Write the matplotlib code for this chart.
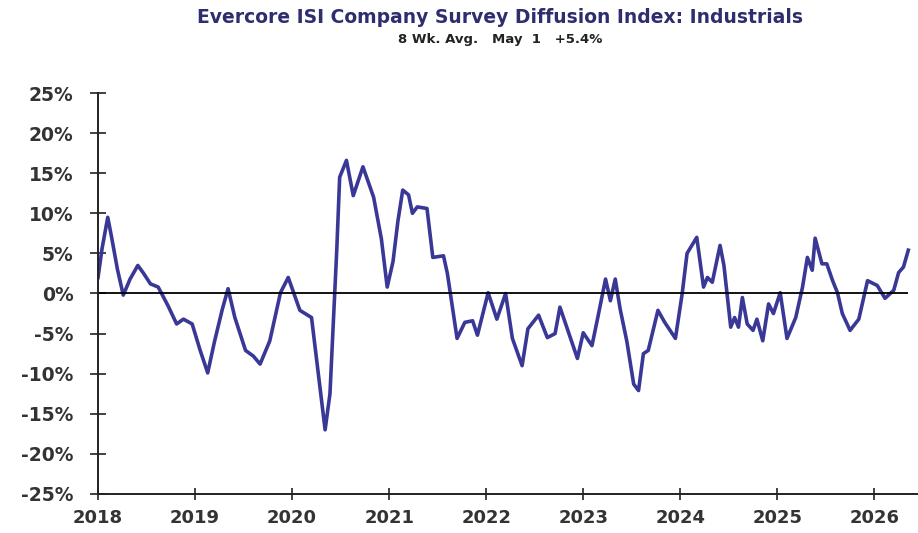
import matplotlib
matplotlib.use("Agg")
import matplotlib.pyplot as plt
import numpy as np

# Lecturas aproximadas del gráfico (año decimal, % índice de difusión)
fechas = [
    2018.00, 2018.04, 2018.10, 2018.14, 2018.20, 2018.26, 2018.33, 2018.41, 2018.47, 2018.54,
    2018.62, 2018.72, 2018.81, 2018.88, 2018.97, 2019.05, 2019.13, 2019.20, 2019.28, 2019.34,
    2019.41, 2019.52, 2019.60, 2019.67, 2019.77, 2019.88, 2019.96, 2020.08, 2020.20, 2020.26,
    2020.34, 2020.39, 2020.46, 2020.49, 2020.56, 2020.63, 2020.73, 2020.84, 2020.92, 2020.98,
    2021.04, 2021.09, 2021.14, 2021.20, 2021.24, 2021.29, 2021.39, 2021.45, 2021.56, 2021.60,
    2021.70, 2021.78, 2021.86, 2021.91, 2022.02, 2022.11, 2022.20, 2022.27, 2022.37, 2022.43,
    2022.54, 2022.63, 2022.71, 2022.76, 2022.85, 2022.94, 2023.00, 2023.09, 2023.15, 2023.23,
    2023.28, 2023.33, 2023.38, 2023.45, 2023.52, 2023.57, 2023.62, 2023.67, 2023.77, 2023.84,
    2023.95, 2024.02, 2024.07, 2024.17, 2024.24, 2024.28, 2024.33, 2024.41, 2024.45, 2024.52,
    2024.56, 2024.60, 2024.64, 2024.69, 2024.75, 2024.79, 2024.85, 2024.91, 2024.96, 2025.03,
    2025.10, 2025.19, 2025.26, 2025.31, 2025.36, 2025.39, 2025.46, 2025.51, 2025.57, 2025.62,
    2025.67, 2025.75, 2025.84, 2025.93, 2026.03, 2026.11, 2026.20, 2026.25, 2026.30, 2026.35,
]
valores = [
    2.0, 5.5, 9.5, 7.0, 3.0, -0.2, 1.8, 3.5, 2.5, 1.2,
    0.8, -1.5, -3.8, -3.2, -3.8, -7.0, -9.9, -6.0, -2.0, 0.6,
    -3.0, -7.1, -7.8, -8.8, -5.9, 0.1, 2.0, -2.1, -3.0, -9.0,
    -17.0, -12.5, 5.4, 14.5, 16.6, 12.2, 15.8, 12.0, 6.8, 0.8,
    4.0, 9.0, 12.9, 12.3, 10.0, 10.8, 10.6, 4.5, 4.7, 2.5,
    -5.6, -3.6, -3.4, -5.2, 0.1, -3.2, 0.0, -5.6, -9.0, -4.4,
    -2.7, -5.5, -5.0, -1.7, -4.9, -8.1, -4.9, -6.5, -3.0, 1.8,
    -0.9, 1.8, -1.9, -6.0, -11.3, -12.1, -7.5, -7.1, -2.1, -3.6,
    -5.6, 0.0, 5.0, 7.0, 0.8, 2.0, 1.4, 6.0, 3.5, -4.2,
    -3.0, -4.2, -0.5, -3.8, -4.6, -3.2, -5.9, -1.3, -2.5, 0.1,
    -5.6, -3.0, 0.8, 4.5, 2.9, 6.9, 3.7, 3.7, 1.6, 0.1,
    -2.5, -4.6, -3.2, 1.6, 1.0, -0.6, 0.4, 2.6, 3.3, 5.4,
]
anos = list(range(2018, 2027))
ticks_y = list(range(-25, 30, 5))

titulo = "Evercore ISI Company Survey Diffusion Index: Industrials"
subtitulo = "8 Wk. Avg.   May  1   +5.4%"

plt.rcParams['font.family'] = ['DejaVu Sans']
plt.rcParams['font.weight'] = 'bold'

fig = plt.figure(figsize=(9.18, 5.33), dpi=100)
ax = fig.add_axes([0.1068, 0.0732, 0.8932, 0.7523])

ax.plot(fechas, valores, color='#3a3896', lw=2.6, solid_joinstyle='round')
ax.hlines(0, fechas[0], fechas[-1], color='black', lw=1.3)

ax.set_xlim(2018, 2026.45)
ax.set_ylim(-25, 25)
ax.set_xticks(anos)
ax.set_xticklabels([str(a) for a in anos])
ax.set_yticks(ticks_y)
ax.set_yticklabels([f"{v}%" for v in ticks_y])

for lado in ['top', 'right']:
    ax.spines[lado].set_visible(False)
for lado in ['left', 'bottom']:
    ax.spines[lado].set_linewidth(1.4)
    ax.spines[lado].set_color('#222222')

ax.tick_params(axis='y', direction='inout', length=11, width=1.2, pad=12,
               labelsize=13.5, labelcolor='#333333', color='#222222')
ax.tick_params(axis='x', direction='inout', length=9, width=1.2, pad=6,
               labelsize=13, labelcolor='#333333', color='#222222')
for lbl in ax.get_xticklabels() + ax.get_yticklabels():
    lbl.set_fontweight('bold')

fig.text(0.545, 0.968, titulo, ha='center', va='center', fontsize=13.5,
         fontweight='bold', color='#2e2d6e')
fig.text(0.545, 0.925, subtitulo, ha='center', va='center', fontsize=9.5,
         fontweight='bold', color='#222222')

fig.savefig("out.png", dpi=100)
